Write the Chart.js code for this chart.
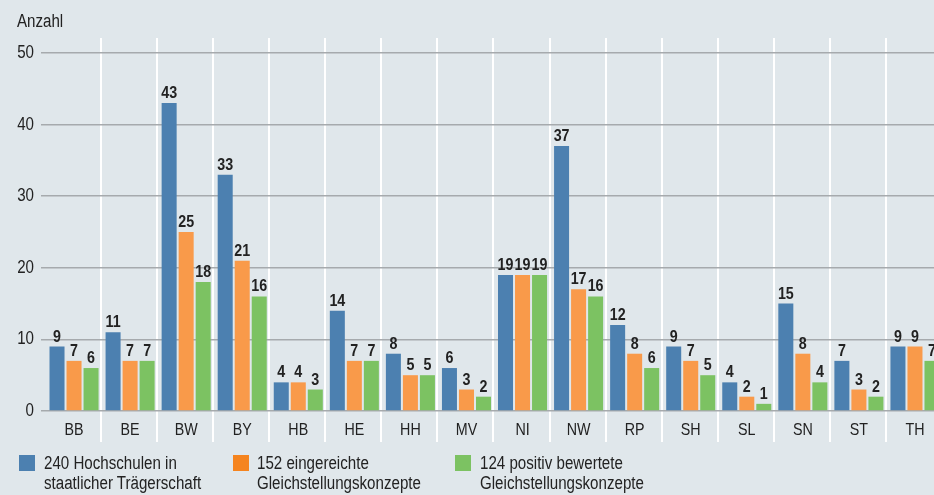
<!DOCTYPE html>
<html>
<head>
<meta charset="utf-8">
<script src="https://cdn.jsdelivr.net/npm/chart.js@4/dist/chart.umd.min.js"></script>
<style>
  html, body { margin:0; padding:0; background:#e0e7eb; width:934px; height:495px; overflow:hidden; }
  #wrap { position:relative; width:943px; height:495px; }
  canvas { position:absolute; left:0; top:0; }
  .txt { position:absolute; font-family:'Liberation Sans',Arial,sans-serif; font-size:18px; line-height:20px; color:#222; white-space:nowrap; transform:scaleX(0.84); transform-origin:0 0; }
  .box { position:absolute; width:16px; height:16px; }
</style>
</head>
<body>
<div id="wrap">
  <canvas id="c" width="943" height="495"></canvas>
  <div class="txt" style="left:17px;top:11px;">Anzahl</div>
  <div id="legend"></div>
</div>
<script>
const categories = ['BB','BE','BW','BY','HB','HE','HH','MV','NI','NW','RP','SH','SL','SN','ST','TH'];
const hochschulen = [9,11,43,33,4,14,8,6,19,37,12,9,4,15,7,9];
const eingereicht = [7,7,25,21,4,7,5,3,19,17,8,7,2,8,3,9];
const positiv = [6,7,18,16,3,7,5,2,19,16,6,5,1,4,2,7];
const seriesNames = [
  ['240 Hochschulen in','staatlicher Trägerschaft'],
  ['152 eingereichte','Gleichstellungskonzepte'],
  ['124 positiv bewertete','Gleichstellungskonzepte']
];
const yTicks = [0,10,20,30,40,50];

const FONT = "'Liberation Sans',Arial,sans-serif";
const SX = 0.84; // narrow text
const colors = ['#4c80b0','#f99a4a','#7cc262'];
const legendColors = ['#4c80b0','#f5841f','#7cc262'];

// HTML legend
const legendPos = [[19,44],[233,257],[455,480]];
const lg = document.getElementById('legend');
seriesNames.forEach((n,i)=>{
  const b = document.createElement('div');
  b.className='box'; b.style.left=legendPos[i][0]+'px'; b.style.top='455px'; b.style.background=legendColors[i];
  lg.appendChild(b);
  const t = document.createElement('div');
  t.className='txt'; t.style.left=legendPos[i][1]+'px'; t.style.top='453px';
  t.innerHTML = n.join('<br>');
  lg.appendChild(t);
});

// condensed canvas text
const canvas = document.getElementById('c');
const ctx2d = canvas.getContext('2d');
const origFill = ctx2d.fillText.bind(ctx2d);
ctx2d.fillText = function(t, x, y, mw){
  this.save();
  this.translate(x, y);
  this.scale(SX, 1);
  if (mw === undefined) origFill(t, 0, 0); else origFill(t, 0, 0, mw / SX);
  this.restore();
};

const sepLines = {
  id:'sepLines',
  beforeDraw(chart){
    const ctx = chart.ctx, x = chart.scales.x, a = chart.chartArea;
    ctx.save();
    ctx.strokeStyle = '#ffffff';
    ctx.lineWidth = 2;
    for (let i=0;i<categories.length;i++){
      const px = Math.round(x.getPixelForValue(i) + 27);
      ctx.beginPath();
      ctx.moveTo(px, a.top - 15);
      ctx.lineTo(px, a.bottom + 31);
      ctx.stroke();
    }
    ctx.restore();
  }
};

const valueLabels = {
  id:'valueLabels',
  afterDatasetsDraw(chart){
    const ctx = chart.ctx;
    ctx.save();
    ctx.font = 'bold 17px ' + FONT;
    ctx.fillStyle = '#222';
    ctx.textAlign = 'center';
    ctx.textBaseline = 'alphabetic';
    chart.data.datasets.forEach((ds,di)=>{
      chart.getDatasetMeta(di).data.forEach((bar,i)=>{
        ctx.fillText(String(ds.data[i]), bar.x, bar.y - 5);
      });
    });
    ctx.restore();
  }
};

new Chart(canvas, {
  type:'bar',
  data:{
    labels: categories,
    datasets:[
      {label: seriesNames[0].join(' '), data: hochschulen, backgroundColor: colors[0]},
      {label: seriesNames[1].join(' '), data: eingereicht, backgroundColor: colors[1]},
      {label: seriesNames[2].join(' '), data: positiv, backgroundColor: colors[2]}
    ]
  },
  options:{
    responsive:false,
    animation:false,
    devicePixelRatio:1,
    categoryPercentage: 51/56,
    barPercentage: 15/17,
    layout:{ padding:{ top:53, left:0, right:0, bottom:0 } },
    plugins:{ legend:{display:false}, tooltip:{enabled:false} },
    scales:{
      x:{
        grid:{ display:false, drawTicks:false },
        border:{ display:false },
        ticks:{ color:'#222', font:{ family:FONT, size:17 }, padding:9 },
        afterFit(s){ s.height = 84; }
      },
      y:{
        min:0, max:50,
        afterBuildTicks(s){ s.ticks = yTicks.map(v=>({value:v})); },
        grid:{ color:'#a6aaad', lineWidth:1.5, tickLength:5, drawTicks:true },
        border:{ display:false },
        ticks:{ color:'#222', font:{ family:FONT, size:18 }, padding:7 },
        afterFit(s){ s.width = 46; }
      }
    }
  },
  plugins:[sepLines, valueLabels]
});
</script>
</body>
</html>
